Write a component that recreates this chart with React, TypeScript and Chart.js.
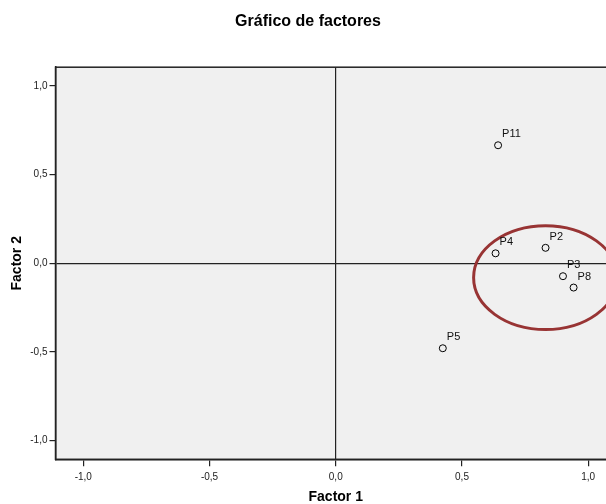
import React, { useEffect, useRef } from "react";
import { Chart, registerables } from "chart.js";

Chart.register(...registerables);

// ---- Data ----
const pointLabels = ["P11", "P4", "P2", "P3", "P8", "P5"];
const factor1 = [0.643, 0.633, 0.831, 0.9, 0.942, 0.424];
const factor2 = [0.665, 0.056, 0.087, -0.073, -0.137, -0.479];

const tickValues = [-1, -0.5, 0, 0.5, 1];
const tickLabels = ["-1,0", "-0,5", "0,0", "0,5", "1,0"];

const axisMin = -1.11;
const axisMax = 1.11;
const yAxisMin = -1.105;
const yAxisMax = 1.105;

// highlighted cluster (ellipse): center and radii in data units
const ellipseCenter = [0.831, -0.081];
const ellipseRadii = [0.285, 0.293];

const FONT = 'Arial, "Liberation Sans", sans-serif';

const plotBgPlugin = {
  id: "plotBg",
  beforeDraw(chart: any) {
    const { ctx, chartArea } = chart;
    ctx.save();
    ctx.fillStyle = "#f0f0f0";
    ctx.fillRect(chartArea.left, chartArea.top, chartArea.right - chartArea.left, chartArea.bottom - chartArea.top);
    ctx.restore();
  },
  afterDraw(chart: any) {
    const { ctx, chartArea } = chart;
    ctx.save();
    ctx.strokeStyle = "#222";
    ctx.lineWidth = 1.5;
    ctx.strokeRect(chartArea.left, chartArea.top, chartArea.right - chartArea.left, chartArea.bottom - chartArea.top);
    ctx.restore();
  },
};

const ellipsePlugin = {
  id: "clusterEllipse",
  beforeDatasetsDraw(chart: any) {
    const { ctx, chartArea, scales } = chart;
    const cx = scales.x.getPixelForValue(ellipseCenter[0]);
    const cy = scales.y.getPixelForValue(ellipseCenter[1]);
    const rx = Math.abs(scales.x.getPixelForValue(ellipseCenter[0] + ellipseRadii[0]) - cx);
    const ry = Math.abs(scales.y.getPixelForValue(ellipseCenter[1] + ellipseRadii[1]) - cy);
    ctx.save();
    ctx.beginPath();
    ctx.rect(chartArea.left, chartArea.top, chartArea.right - chartArea.left, chartArea.bottom - chartArea.top);
    ctx.clip();
    ctx.beginPath();
    ctx.ellipse(cx, cy, rx, ry, 0, 0, Math.PI * 2);
    ctx.strokeStyle = "#983434";
    ctx.lineWidth = 3;
    ctx.stroke();
    ctx.restore();
  },
};

const labelPlugin = {
  id: "pointLabels",
  afterDatasetsDraw(chart: any) {
    const { ctx } = chart;
    const meta = chart.getDatasetMeta(0);
    ctx.save();
    ctx.font = `11px ${FONT}`;
    ctx.fillStyle = "#111";
    ctx.textAlign = "left";
    ctx.textBaseline = "middle";
    meta.data.forEach((el: any, i: number) => {
      ctx.fillText(pointLabels[i], el.x + 4, el.y - 11);
    });
    ctx.restore();
  },
};

export default function App() {
  const canvasRef = useRef<HTMLCanvasElement | null>(null);

  useEffect(() => {
    if (!canvasRef.current) return;
    Chart.defaults.font.family = FONT;
    const zeroColor = (ctx: any) => (ctx.tick && ctx.tick.value === 0 ? "#222" : "rgba(0,0,0,0)");
    const chart = new Chart(canvasRef.current, {
      type: "scatter",
      data: {
        datasets: [
          {
            label: "Factores",
            data: factor1.map((x, i) => ({ x, y: factor2[i] })),
            pointStyle: "circle",
            pointRadius: 3.5,
            pointBorderWidth: 1,
            pointBorderColor: "#000",
            pointBackgroundColor: "rgba(0,0,0,0)",
          },
        ],
      },
      options: {
        responsive: false,
        animation: false,
        layout: { padding: { left: 0, right: 6, top: 0, bottom: 0 } },
        plugins: {
          legend: { display: false },
          tooltip: { enabled: false },
          title: {
            display: true,
            text: "Gráfico de factores",
            color: "#000",
            font: { size: 16, weight: "bold", family: FONT },
            padding: { top: 12, bottom: 36 },
          },
        },
        scales: {
          x: {
            type: "linear",
            min: axisMin,
            max: axisMax,
            afterBuildTicks: (s: any) => {
              s.ticks = tickValues.map((v) => ({ value: v }));
            },
            afterFit: (s: any) => {
              s.height = 44.7;
            },
            ticks: {
              autoSkip: false,
              maxRotation: 0,
              padding: 5,
              color: "#222",
              font: { size: 10, family: FONT },
              callback: (v: any) => tickLabels[tickValues.indexOf(Number(v))],
            },
            grid: {
              drawOnChartArea: true,
              drawTicks: true,
              tickLength: 7,
              color: zeroColor,
              tickColor: "#222",
              lineWidth: 1.2,
            },
            border: { display: true, color: "#222", width: 1.5 },
            title: {
              display: true,
              text: "Factor 1",
              color: "#000",
              font: { size: 14, weight: "bold", family: FONT },
              padding: { top: 0, bottom: -2 },
            },
          },
          y: {
            type: "linear",
            min: yAxisMin,
            max: yAxisMax,
            afterBuildTicks: (s: any) => {
              s.ticks = tickValues.map((v) => ({ value: v }));
            },
            afterFit: (s: any) => {
              s.width = 55.5;
            },
            ticks: {
              autoSkip: false,
              padding: 2,
              color: "#222",
              font: { size: 10, family: FONT },
              callback: (v: any) => tickLabels[tickValues.indexOf(Number(v))],
            },
            grid: {
              drawOnChartArea: true,
              drawTicks: true,
              tickLength: 6,
              color: zeroColor,
              tickColor: "#222",
              lineWidth: 1.2,
            },
            border: { display: true, color: "#222", width: 1.5 },
            title: {
              display: true,
              text: "Factor 2",
              color: "#000",
              font: { size: 14, weight: "bold", family: FONT },
              padding: { top: 9, bottom: 0 },
            },
          },
        },
      },
      plugins: [plotBgPlugin, ellipsePlugin, labelPlugin],
    } as any);
    return () => chart.destroy();
  }, []);

  return (
    <div
      style={{
        position: "fixed",
        left: 0,
        top: 0,
        width: 606,
        height: 504,
        overflow: "hidden",
        background: "#fff",
      }}
    >
      <canvas ref={canvasRef} width={622} height={504} style={{ display: "block" }} />
    </div>
  );
}
